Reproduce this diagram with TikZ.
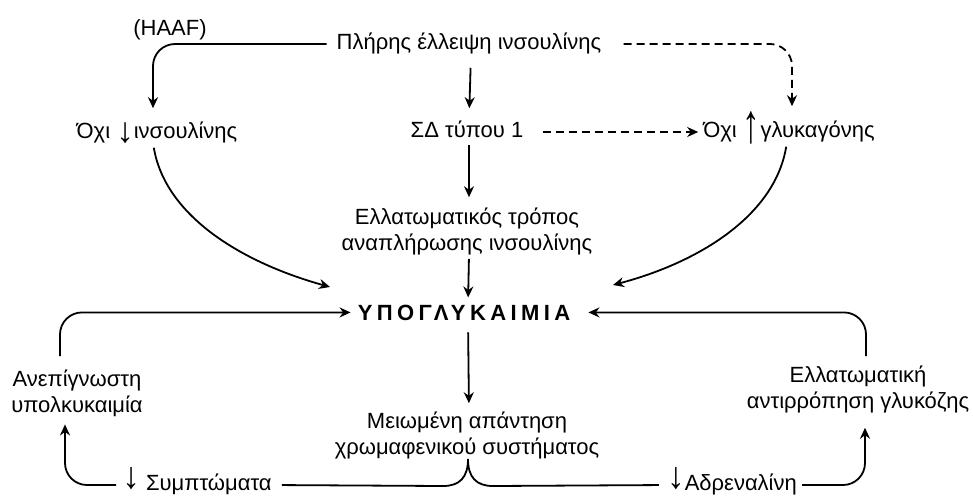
\documentclass[tikz,border=0pt]{standalone}
\usepackage{fontspec}
\setmainfont{Liberation Sans}
\usepackage{graphicx}
\usetikzlibrary{arrows.meta}
\tikzset{lbl/.style={anchor=base, inner sep=0pt, align=center, font=\fontsize{22}{26}\selectfont},
hypo/.style={lbl, font=\fontsize{22}{26}\selectfont\bfseries\addfontfeature{LetterSpace=20}},
conn/.style={line width=1.8pt},
flow/.style={conn, -{Stealth[length=11pt,width=10pt]}},
%dashed arrows
flowd/.style={flow, dash pattern=on 8pt off 5pt}}
\newcommand{\dn}[2]{\smash{\raisebox{#1}{\scalebox{1.6}[#2]{↓}}}}
\newcommand{\up}[2]{\smash{\raisebox{#1}{\scalebox{1.6}[#2]{↑}}}}

\begin{document}
\begin{tikzpicture}[x=1pt,y=-1pt]
    \useasboundingbox (0,0) rectangle (973,496);

    \node[lbl] (haaf) at (170,35) {(HAAF)};
    \node[lbl] (top) at (469,49) {Πλήρης έλλειψη ινσουλίνης};
    \node[lbl] (noins) at (157,138) {Όχι\ \dn{-4pt}{1.6}ινσουλίνης};
    \node[lbl] (sd) at (467,137) {ΣΔ τύπου 1};
    \node[lbl] (noglu) at (789,137) {Όχι\ \up{-5pt}{2.5}γλυκαγόνης};
    \node[lbl] (defect) at (467,250) {Ελλατωματικός τρόπος\\αναπλήρωσης ινσουλίνης};
    \node[hypo] (hypo) at (464,320) {ΥΠΟΓΛΥΚΑΙΜΙΑ};
    \node[lbl] (unaware) at (77,412) {Ανεπίγνωστη\\υπολκυκαιμία};
    \node[lbl] (chrom) at (467,454) {Μειωμένη απάντηση\\χρωμαφενικού συστήματος};
    \node[lbl] (counter) at (858,408) {Ελλατωματική\\αντιρρόπηση γλυκόζης};
    \node[lbl] (symp) at (197,490) {\dn{2pt}{1.7}\ Συμπτώματα};
    \node[lbl] (adren) at (732,490) {\dn{2pt}{1.7}Αδρεναλίνη};

    \coordinate (hl) at (330,287);
    \coordinate (hr) at (613,285);
    \coordinate (cusp) at (468,459);

    % top row
    \draw[flow, rounded corners=22pt, shorten <=10pt, shorten >=13pt] ([yshift=5pt]top.base west) -| ([xshift=-4pt]noins.north);
    \draw[flowd, rounded corners=22pt, shorten <=22pt, shorten >=14pt] ([yshift=5pt]top.base east) -| ([xshift=3pt]noglu.north);
    \draw[flow, shorten <=14pt, shorten >=12pt] ([xshift=2pt]top.south) -- ([xshift=2pt]sd.north);
    \draw[flowd, shorten <=19pt, shorten >=5pt] ([yshift=5pt]sd.base east) -- ([yshift=5pt]noglu.base west);

    % into hypoglycaemia
    \draw[flow, shorten <=8pt, shorten >=10pt] ([xshift=2pt]sd.south) -- ([xshift=2pt]defect.north);
    \draw[flow, shorten <=4pt, shorten >=7pt] ([xshift=2pt]defect.south) -- ([xshift=4pt]hypo.north);
    \draw[flow, shorten <=5pt] ([xshift=-4pt]noins.south) .. controls (165,215) and (240,262) .. (hl);
    \draw[flow, shorten <=5pt] ([xshift=-2pt]noglu.south) .. controls (775,215) and (700,262) .. (hr);
    \draw[flow, rounded corners=22pt, shorten <=13pt, shorten >=7pt] ([xshift=-17pt]unaware.north) |- (hypo.west);
    \draw[flow, rounded corners=22pt, shorten <=9pt, shorten >=18pt] ([xshift=8pt]counter.north) |- (hypo.east);
    \draw[flow, shorten <=12pt, shorten >=8pt] ([xshift=4pt]hypo.south) -- ([xshift=2pt]chrom.north);

    % bottom loop
    \draw[flow, rounded corners=22pt, shorten <=6pt, shorten >=8pt] ([yshift=5pt]symp.base west) -| ([xshift=-12pt]unaware.south);
    \draw[flow, rounded corners=22pt, shorten <=5pt, shorten >=15pt] ([yshift=5pt]adren.base east) -| ([xshift=7pt]counter.south);
    \draw[conn, shorten <=10pt, shorten >=8pt] ([yshift=5pt]symp.base east) -- (443,486)
        .. controls (460,486) and (468,477) .. (cusp)
        .. controls (468,477) and (476,486) .. (493,486) -- ([yshift=5pt]adren.base west);

\end{tikzpicture}
\end{document}
